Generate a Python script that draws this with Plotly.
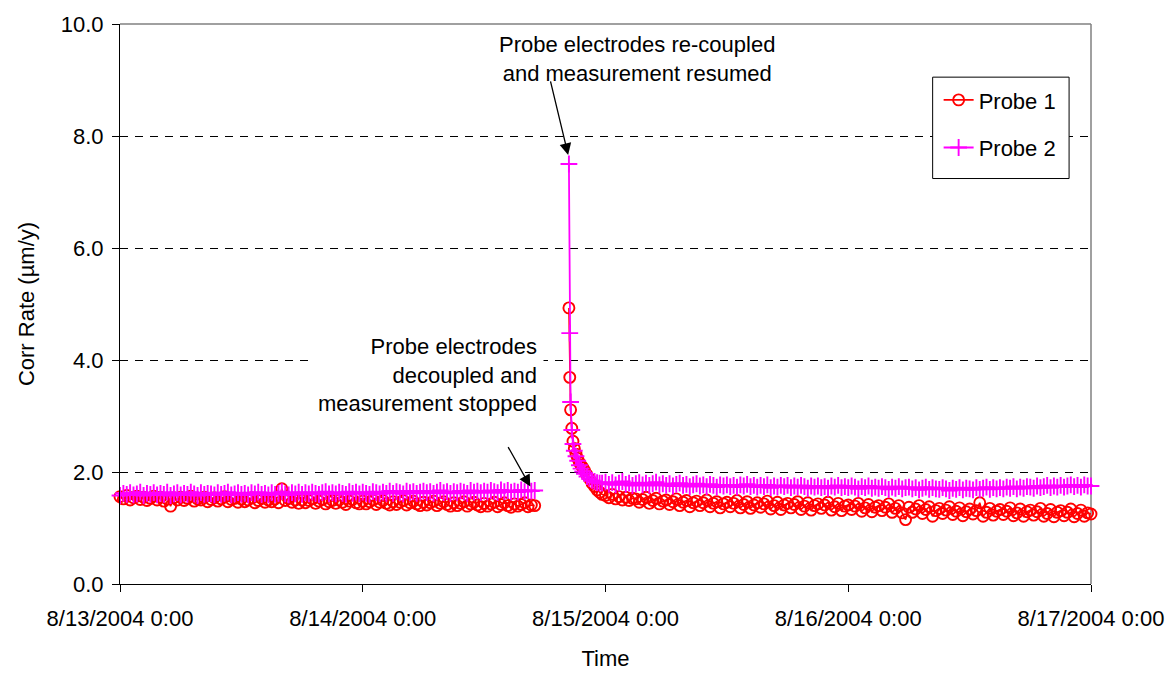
import pandas as pd
import plotly.graph_objects as go

# ---------------- data ----------------
seg1_times = list(pd.date_range("2004-08-13 00:00", "2004-08-14 17:00", freq="20min"))
spike_times = [pd.Timestamp("2004-08-14 " + t) for t in
               ["20:23", "20:28", "20:33", "20:40", "20:47", "20:55", "21:05", "21:15", "21:25",
                "21:35", "21:45", "21:55", "22:10", "22:25", "22:40", "22:55", "23:10", "23:25", "23:40"]]
seg2_times = list(pd.date_range("2004-08-15 00:00", "2004-08-17 00:00", freq="20min"))

probe1_seg1 = [
    1.56, 1.52, 1.58, 1.50, 1.54, 1.57, 1.51, 1.55, 1.49,
    1.53, 1.57, 1.50, 1.55, 1.48, 1.52, 1.39, 1.54, 1.50,
    1.55, 1.49, 1.53, 1.57, 1.48, 1.52, 1.50, 1.55, 1.47,
    1.51, 1.54, 1.48, 1.52, 1.56, 1.47, 1.51, 1.53, 1.46,
    1.52, 1.47, 1.50, 1.54, 1.45, 1.49, 1.53, 1.46, 1.50,
    1.47, 1.52, 1.45, 1.70, 1.49, 1.53, 1.46, 1.50, 1.44,
    1.50, 1.45, 1.49, 1.52, 1.44, 1.48, 1.51, 1.43, 1.47,
    1.49, 1.44, 1.50, 1.46, 1.42, 1.48, 1.51, 1.45, 1.43,
    1.48, 1.43, 1.47, 1.50, 1.42, 1.46, 1.49, 1.44, 1.41,
    1.47, 1.42, 1.46, 1.49, 1.41, 1.45, 1.48, 1.43, 1.40,
    1.46, 1.41, 1.45, 1.48, 1.40, 1.44, 1.47, 1.42, 1.39,
    1.45, 1.40, 1.44, 1.47, 1.39, 1.43, 1.46, 1.41, 1.38,
    1.44, 1.39, 1.43, 1.46, 1.38, 1.42, 1.45, 1.40, 1.37,
    1.43, 1.39, 1.42, 1.45, 1.38, 1.41, 1.40,
]
probe2_seg1 = [
    1.58, 1.62, 1.60, 1.63, 1.59, 1.61, 1.64, 1.58, 1.62,
    1.60, 1.63, 1.59, 1.62, 1.60, 1.64, 1.58, 1.61, 1.63,
    1.59, 1.62, 1.60, 1.64, 1.61, 1.58, 1.63, 1.60, 1.62,
    1.61, 1.59, 1.63, 1.60, 1.62, 1.64, 1.59, 1.61, 1.63,
    1.60, 1.62, 1.59, 1.63, 1.61, 1.64, 1.60, 1.62, 1.59,
    1.63, 1.60, 1.62, 1.65, 1.61, 1.59, 1.63, 1.61, 1.64,
    1.60, 1.63, 1.61, 1.64, 1.62, 1.60, 1.63, 1.65, 1.61,
    1.63, 1.61, 1.64, 1.62, 1.60, 1.65, 1.62, 1.64, 1.61,
    1.64, 1.62, 1.60, 1.65, 1.63, 1.61, 1.64, 1.62, 1.66,
    1.62, 1.65, 1.63, 1.61, 1.66, 1.63, 1.65, 1.62, 1.64,
    1.66, 1.63, 1.65, 1.62, 1.64, 1.67, 1.63, 1.65, 1.62,
    1.65, 1.63, 1.66, 1.64, 1.62, 1.67, 1.64, 1.66, 1.63,
    1.66, 1.64, 1.67, 1.65, 1.63, 1.68, 1.65, 1.67, 1.64,
    1.66, 1.64, 1.68, 1.65, 1.67, 1.66, 1.67,
]
probe1_spike = [4.93, 3.69, 3.11, 2.78, 2.55, 2.42, 2.32, 2.24, 2.17, 2.12,
                2.08, 2.03, 1.95, 1.88, 1.80, 1.74, 1.68, 1.64, 1.60]
probe2_spike = [7.50, 4.48, 3.25, 2.75, 2.50, 2.38, 2.28, 2.20, 2.12, 2.06,
                2.01, 1.97, 1.92, 1.88, 1.85, 1.83, 1.81, 1.80, 1.80]
probe1_seg2 = [
    1.58, 1.54, 1.60, 1.52, 1.56, 1.50, 1.55, 1.49, 1.53,
    1.52, 1.46, 1.51, 1.55, 1.44, 1.49, 1.53, 1.43, 1.48,
    1.50, 1.42, 1.47, 1.52, 1.40, 1.46, 1.49, 1.38, 1.45,
    1.48, 1.40, 1.45, 1.50, 1.38, 1.44, 1.47, 1.36, 1.43,
    1.46, 1.38, 1.44, 1.49, 1.36, 1.42, 1.47, 1.35, 1.41,
    1.45, 1.37, 1.43, 1.48, 1.34, 1.40, 1.46, 1.33, 1.41,
    1.44, 1.36, 1.42, 1.47, 1.33, 1.39, 1.45, 1.32, 1.40,
    1.43, 1.35, 1.41, 1.46, 1.32, 1.38, 1.44, 1.31, 1.39,
    1.41, 1.33, 1.39, 1.44, 1.30, 1.36, 1.42, 1.29, 1.37,
    1.40, 1.31, 1.37, 1.43, 1.28, 1.35, 1.40, 1.27, 1.15,
    1.37, 1.28, 1.34, 1.40, 1.26, 1.33, 1.38, 1.21, 1.31,
    1.35, 1.26, 1.32, 1.38, 1.24, 1.30, 1.36, 1.22, 1.29,
    1.34, 1.25, 1.31, 1.45, 1.21, 1.28, 1.35, 1.23, 1.30,
    1.33, 1.24, 1.30, 1.36, 1.22, 1.27, 1.34, 1.21, 1.29,
    1.32, 1.23, 1.29, 1.35, 1.21, 1.26, 1.33, 1.20, 1.28,
    1.31, 1.22, 1.28, 1.34, 1.20, 1.26, 1.32, 1.21, 1.27,
    1.25,
]
probe2_seg2 = [
    1.82, 1.78, 1.81, 1.77, 1.80, 1.83, 1.78, 1.80, 1.76,
    1.79, 1.81, 1.77, 1.80, 1.76, 1.79, 1.82, 1.77, 1.79,
    1.76, 1.79, 1.75, 1.78, 1.80, 1.76, 1.78, 1.74, 1.77,
    1.79, 1.75, 1.77, 1.74, 1.78, 1.76, 1.73, 1.77, 1.75,
    1.77, 1.74, 1.76, 1.73, 1.77, 1.75, 1.78, 1.74, 1.76,
    1.73, 1.76, 1.74, 1.77, 1.72, 1.75, 1.73, 1.76, 1.74,
    1.76, 1.72, 1.75, 1.73, 1.76, 1.74, 1.71, 1.75, 1.73,
    1.75, 1.72, 1.74, 1.71, 1.75, 1.73, 1.76, 1.72, 1.74,
    1.72, 1.75, 1.73, 1.70, 1.74, 1.72, 1.75, 1.71, 1.73,
    1.71, 1.74, 1.72, 1.69, 1.73, 1.71, 1.74, 1.70, 1.72,
    1.73, 1.70, 1.72, 1.68, 1.71, 1.73, 1.69, 1.72, 1.70,
    1.69, 1.72, 1.70, 1.67, 1.71, 1.69, 1.72, 1.68, 1.71,
    1.70, 1.68, 1.72, 1.69, 1.71, 1.73, 1.69, 1.72, 1.70,
    1.72, 1.70, 1.73, 1.71, 1.74, 1.70, 1.73, 1.71, 1.74,
    1.73, 1.71, 1.75, 1.72, 1.74, 1.76, 1.72, 1.75, 1.73,
    1.76, 1.73, 1.75, 1.77, 1.74, 1.76, 1.73, 1.77, 1.75,
    1.75,
]

x_tick_vals = ["2004-08-13 00:00", "2004-08-14 00:00", "2004-08-15 00:00",
               "2004-08-16 00:00", "2004-08-17 00:00"]
x_tick_text = ["8/13/2004 0:00", "8/14/2004 0:00", "8/15/2004 0:00",
               "8/16/2004 0:00", "8/17/2004 0:00"]
y_tick_vals = [0, 2, 4, 6, 8, 10]

# ---------------- build ----------------
times = seg1_times + [None] + spike_times + seg2_times
p1 = probe1_seg1 + [None] + probe1_spike + probe1_seg2
p2 = probe2_seg1 + [None] + probe2_spike + probe2_seg2
assert len(seg1_times) == len(probe1_seg1) == len(probe2_seg1)
assert len(seg2_times) == len(probe1_seg2) == len(probe2_seg2)

FONT = "Liberation Sans, Arial, sans-serif"
FS = 22

fig = go.Figure()
fig.add_trace(go.Scatter(
    x=times, y=p1, name="Probe 1", mode="lines+markers", legendgroup="a",
    line=dict(color="#FF0000", width=1.6),
    marker=dict(symbol="circle-open", size=11, color="#FF0000", line=dict(width=1.9, color="#FF0000")),
    cliponaxis=False, connectgaps=False))
fig.add_trace(go.Scatter(
    x=times, y=p2, name="Probe 2", mode="lines+markers", legendgroup="b",
    line=dict(color="#FF00FF", width=1.8),
    marker=dict(symbol="cross-thin-open", size=12, color="#FF00FF", line=dict(width=1.9, color="#FF00FF")),
    cliponaxis=False, connectgaps=False))

W, H = 1176, 679
L, R, T, B = 120, 1095, 18, 587
PW, PH = R - L, B - T
def px(xp): return (xp - L) / PW
def py(yp): return (B - yp) / PH

fig.update_layout(
    width=W, height=H,
    margin=dict(l=L, r=W - R, t=T, b=H - B, pad=0),
    paper_bgcolor="white", plot_bgcolor="white",
    font=dict(family=FONT, size=FS, color="black"),
    showlegend=True,
    legend=dict(x=px(942), y=py(74), xanchor="left", yanchor="top",
                borderwidth=0, bgcolor="rgba(255,255,255,0)",
                font=dict(family=FONT, size=FS, color="black"),
                traceorder="grouped", tracegroupgap=16, itemwidth=30),
    xaxis=dict(type="date", range=["2004-08-13 00:00", "2004-08-17 00:00"],
               tickvals=x_tick_vals, ticktext=x_tick_text,
               showgrid=False, zeroline=False,
               showline=True, linecolor="black", linewidth=1,
               ticks="outside", ticklen=7, tickcolor="black", tickwidth=1,
               ticklabelstandoff=8,
               title=dict(text="Time", standoff=20, font=dict(size=FS))),
    yaxis=dict(range=[0, 10], tickvals=y_tick_vals, tickformat=".1f",
               showgrid=True, gridcolor="black", gridwidth=1, griddash="8px,7px",
               zeroline=False,
               showline=True, linecolor="black", linewidth=1,
               ticks="outside", ticklen=7, tickcolor="black", tickwidth=1,
               ticklabelstandoff=4,
               title=dict(text="Corr Rate (µm/y)", standoff=20, font=dict(size=FS))),
)

# plot-area border (top & right) in gray
fig.add_shape(type="line", xref="paper", yref="paper", x0=0, x1=1, y0=1, y1=1,
              line=dict(color="#808080", width=1.5), layer="above")
fig.add_shape(type="line", xref="paper", yref="paper", x0=1, x1=1, y0=0, y1=1,
              line=dict(color="#808080", width=1.5), layer="below")
# legend frame
fig.add_shape(type="rect", xref="paper", yref="paper",
              x0=px(936), x1=px(1073), y0=py(175), y1=py(72),
              line=dict(color="black", width=1), fillcolor="white", layer="above")

# text annotations
fig.add_annotation(xref="paper", yref="paper", x=px(639), y=py(54),
                   xanchor="center", yanchor="middle", align="center", showarrow=False,
                   text="Probe electrodes re-coupled<br>and measurement resumed",
                   font=dict(family=FONT, size=FS, color="black"))
fig.add_annotation(xref="paper", yref="paper", x=px(546), y=py(375),
                   xanchor="right", yanchor="middle", align="right", showarrow=False,
                   bgcolor="white", borderpad=6,
                   text="Probe electrodes<br>decoupled and<br>measurement stopped",
                   font=dict(family=FONT, size=FS, color="black"))
# arrows
fig.add_annotation(xref="paper", yref="paper", x=px(570), y=py(151),
                   ax=552 - 570, ay=76 - 151, text="", showarrow=True,
                   arrowhead=2, arrowsize=1.8, arrowwidth=1.3, arrowcolor="black")
fig.add_annotation(xref="paper", yref="paper", x=px(532), y=py(488),
                   ax=509 - 532, ay=447 - 488, text="", showarrow=True,
                   arrowhead=2, arrowsize=1.8, arrowwidth=1.3, arrowcolor="black")

fig.write_html("out.html")
